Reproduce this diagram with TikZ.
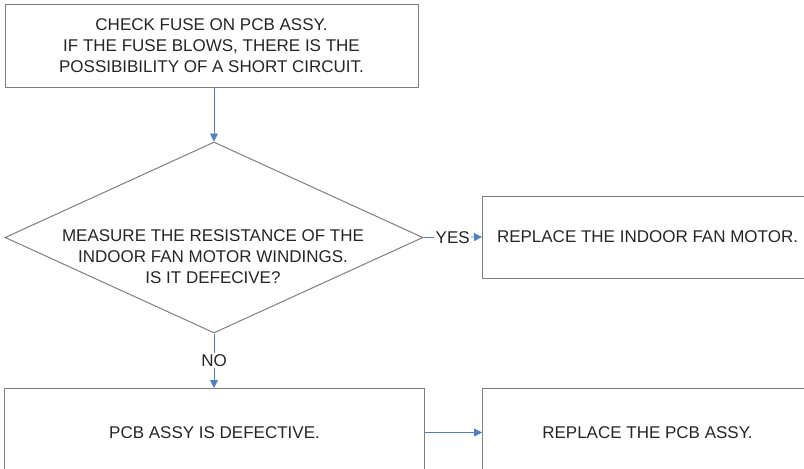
\documentclass[tikz,border=0pt]{standalone}
\usepackage{fontspec}
\setmainfont{Liberation Sans}
\usetikzlibrary{arrows.meta,shapes.geometric}
\definecolor{colbox}{HTML}{7F7F7F}
\definecolor{colflow}{HTML}{4F81BD}
\definecolor{coltext}{HTML}{262626}

\begin{document}
\begin{tikzpicture}[x=1pt, y=-1pt, every node/.style={font=\fontsize{17}{21}\selectfont, align=center, text=coltext},
    box/.style={draw=colbox, line width=1pt, inner sep=0pt},
    flow/.style={-{Triangle[length=8pt,width=8pt]}, colflow, line width=0.8pt},
    tag/.style={fill=white, inner sep=1.5pt}]
    \clip (0,0) rectangle (804,469);
    \fill[white] (0,0) rectangle (804,469);
    % boxes
    \node[box, minimum width=413, minimum height=83] (fuse) at (211.5,45.5) {CHECK FUSE ON PCB ASSY.\\IF THE FUSE BLOWS, THERE IS THE\\POSSIBIBILITY OF A SHORT CIRCUIT.};
    \node[box, diamond, minimum width=418, minimum height=191] (meas) at (214,237.5) {};
    \node (meastext) at (213,257) {MEASURE THE RESISTANCE OF THE\\INDOOR FAN MOTOR WINDINGS.\\IS IT DEFECIVE?};
    \node[box, minimum width=330, minimum height=82, anchor=west] (motor) at (482,237) {REPLACE THE INDOOR FAN MOTOR.};
    \node[box, minimum width=420, minimum height=88, anchor=north west] (pcb) at (4,388) {PCB ASSY IS DEFECTIVE.};
    \node[box, minimum width=330, minimum height=88, anchor=north west] (swap) at (482,388) {REPLACE THE PCB ASSY.};
    % arrows
    \draw[flow] (meas.north |- fuse.south) -- (meas.north);
    \draw[flow] (meas.east) -- node[tag] {YES} (motor.west);
    \draw[flow] (meas.south) -- node[tag] {NO} (meas.south |- pcb.north);
    \draw[flow] (pcb.east) -- (swap.west);
\end{tikzpicture}
\end{document}
